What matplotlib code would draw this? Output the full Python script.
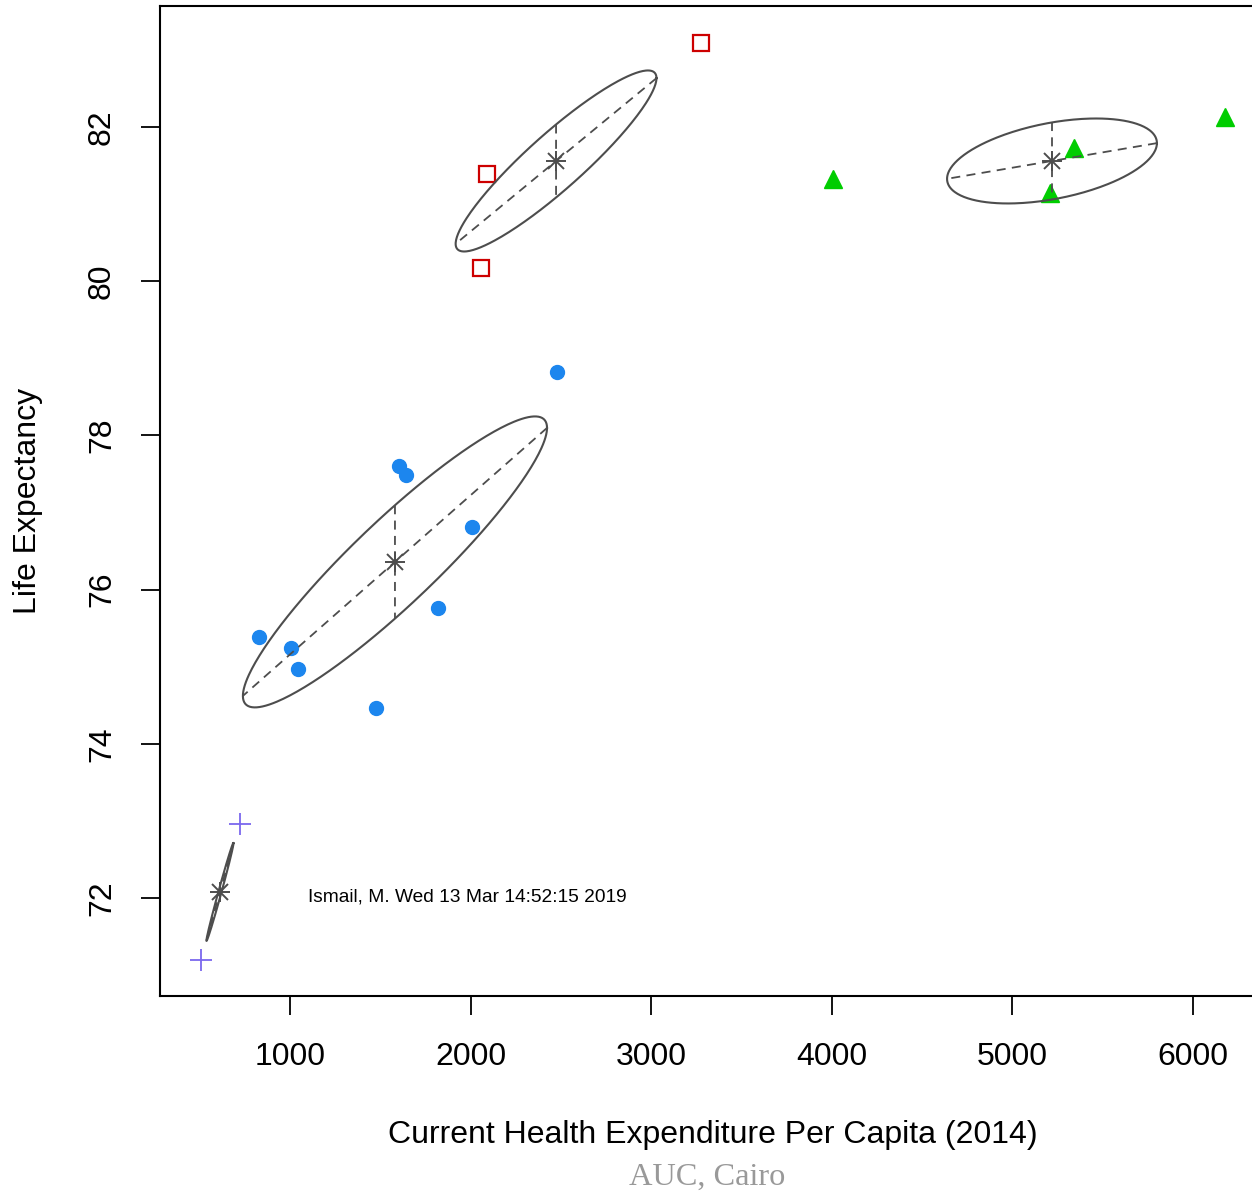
import numpy as np
import matplotlib
matplotlib.use("Agg")
import matplotlib.pyplot as plt

plt.rcParams['font.family'] = ['Liberation Sans', 'DejaVu Sans']

# health expenditure per capita (2014) vs life expectancy, by cluster
purple_x = [507, 723]
purple_y = [71.20, 72.96]
blue_x = [828, 1006, 1044, 1476, 1604, 1642, 1819, 2008, 2478]
blue_y = [75.39, 75.24, 74.97, 74.46, 77.60, 77.49, 75.76, 76.81, 78.82]
red_x = [3276, 2091, 2058]
red_y = [83.09, 81.39, 80.17]
green_x = [4007, 5208, 5341, 6177]
green_y = [81.33, 81.14, 81.73, 82.13]

# ellipse per cluster: centre x, centre y, half width, half height, correlation
ell_cx = [612, 1581, 2473, 5219]
ell_cy = [72.08, 76.36, 81.56, 81.56]
ell_sx = [75, 842, 556, 581]
ell_sy = [0.636, 1.887, 1.174, 0.551]
ell_r = [0.993, 0.921, 0.915, 0.42]

xticks = [1000, 2000, 3000, 4000, 5000, 6000]
yticks = [72, 74, 76, 78, 80, 82]

fig = plt.figure(figsize=(12.52, 11.95), dpi=100)
ax = fig.add_axes([160 / 1252, 199 / 1195, 1106 / 1252, 990 / 1195])
ax.set_xlim(280, 6404)
ax.set_ylim(70.73, 83.57)

ax.plot(purple_x, purple_y, '+', color='#7B68EE', markersize=16, markeredgewidth=1.3, linestyle='none')
ax.plot(blue_x, blue_y, 'o', color='#1C86EE', markersize=10, linestyle='none')
ax.plot(red_x, red_y, 's', markerfacecolor='none', markeredgecolor='#CD0000',
        markersize=11, markeredgewidth=1.6, linestyle='none')
ax.plot(green_x, green_y, '^', color='#00CD00', markersize=13, linestyle='none')

grey = '#4d4d4d'
t = np.linspace(0, 2 * np.pi, 300)
for cx, cy, sx, sy, r in zip(ell_cx, ell_cy, ell_sx, ell_sy, ell_r):
    cov = np.array([[sx * sx, r * sx * sy], [r * sx * sy, sy * sy]])
    L = np.linalg.cholesky(cov)
    pts = L @ np.vstack([np.cos(t), np.sin(t)])
    ax.plot(cx + pts[0], cy + pts[1], color=grey, linewidth=1.5)
    vals, vecs = np.linalg.eigh(cov)
    for k in range(2):
        d = np.sqrt(vals[k]) * vecs[:, k]
        ax.plot([cx - d[0], cx + d[0]], [cy - d[1], cy + d[1]], color=grey,
                linewidth=1.3, linestyle=(0, (5, 3.5)))
    ax.plot(cx, cy, '+', color=grey, markersize=15, markeredgewidth=1.4)
    ax.plot(cx, cy, 'x', color=grey, markersize=11, markeredgewidth=1.4)

ax.text(1100, 72.02, "Ismail, M. Wed 13 Mar 14:52:15 2019", fontsize=13.8,
        va='center', ha='left', color='black')

ax.set_xticks(xticks)
ax.set_yticks(yticks)
ax.set_yticklabels([str(v) for v in yticks], rotation=90, va='center')
ax.tick_params(axis='both', labelsize=23, length=14, width=1.3)
ax.tick_params(axis='x', pad=19)
ax.tick_params(axis='y', pad=17)
for s in ax.spines.values():
    s.set_linewidth(1.5)

ax.set_xlabel("Current Health Expenditure Per Capita (2014)", fontsize=23, labelpad=34.5)
ax.set_ylabel("Life Expectancy", fontsize=23, labelpad=31.5)
fig.text(707 / 1252, 1 - 1177 / 1195, "AUC, Cairo", family='Liberation Serif',
         fontsize=23.3, color='#999999', ha='center', va='center')

fig.savefig("out.png", dpi=100)
